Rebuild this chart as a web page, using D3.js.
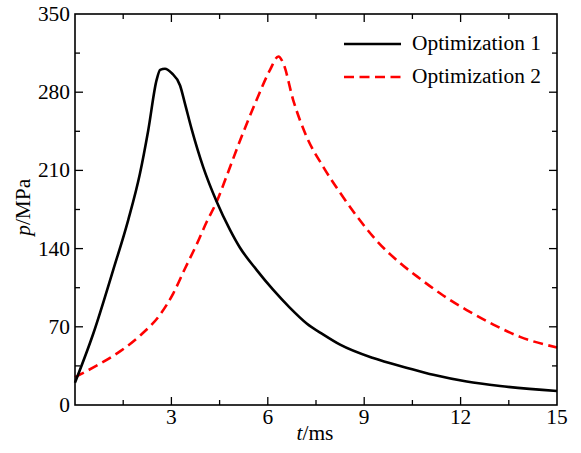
<!DOCTYPE html>
<html>
<head>
<meta charset="utf-8">
<script src="https://cdn.jsdelivr.net/npm/d3@7"></script>
<style>
  html, body { margin: 0; padding: 0; background: #fff; }
</style>
</head>
<body>
<div id="chart"></div>
<script>
// series
const t1 = [0, 0.57, 1.19, 1.66, 2.02, 2.28, 2.54, 2.65, 2.8, 3.01, 3.27, 3.42, 3.63, 3.99, 4.41, 4.82, 5.13, 5.65, 6.17, 6.69, 7.21, 7.73, 8.25, 9.28, 10.37, 11.15, 12.19, 13.23, 15]
const p1 = [20, 64, 121, 166, 207, 246, 291, 300, 301, 297, 286, 270, 247, 213, 182, 157, 141, 121, 103, 87, 73, 63, 54, 42, 33, 27, 21, 17, 12.5]

const t2 = [0, 0.78, 1.4, 2.02, 2.65, 3.06, 3.42, 3.79, 4.1, 4.41, 4.72, 5.14, 5.65, 6.07, 6.33, 6.48, 6.79, 7.21, 7.73, 8.25, 8.77, 9.39, 10.12, 10.74, 11.36, 12.19, 13.02, 13.85, 15]
const p2 = [25, 37, 48, 62, 81, 100, 122, 144, 164, 182, 205, 237, 273, 300, 312, 306, 273, 240, 213, 190, 169, 147, 127, 113, 100, 85, 72, 61, 51.5]

const seriesNames = ['Optimization 1', 'Optimization 2']
const xTicks = [3, 6, 9, 12, 15]
const xMinor = [1.5, 4.5, 7.5, 10.5, 13.5]
const yTicks = [0, 70, 140, 210, 280, 350]
const yMinor = [35, 105, 175, 245, 315]

const W = 581, H = 453
const margin = { top: 14, right: 24, bottom: 48, left: 75 }
const w = W - margin.left - margin.right
const h = H - margin.top - margin.bottom

const svg = d3.select('#chart').append('svg').attr('width', W).attr('height', H)
  .attr('font-family', '"Liberation Serif"')
const g = svg.append('g').attr('transform', `translate(${margin.left},${margin.top})`)

const x = d3.scaleLinear().domain([0, 15]).range([0, w])
const y = d3.scaleLinear().domain([0, 350]).range([h, 0])

// text in the reference is a little wider than it is tall
const label = (parent, lx, ly, anchor, extra = '') => parent.append('text')
  .attr('transform', `translate(${lx},${ly}) ${extra} scale(1.07,1)`)
  .attr('text-anchor', anchor).attr('font-size', 20).attr('fill', '#000')
  .attr('font-family', '"Liberation Serif"')

const line = d3.line().x(d => x(d[0])).y(d => y(d[1])).curve(d3.curveMonotoneX)
const s1 = t1.map((t, i) => [t, p1[i]])
const s2 = t2.map((t, i) => [t, p2[i]])

g.append('path').datum(s2)
  .attr('fill', 'none').attr('stroke', '#ff0000').attr('stroke-width', 2.6)
  .attr('stroke-dasharray', '10,5.5').attr('d', line)
g.append('path').datum(s1)
  .attr('fill', 'none').attr('stroke', '#000').attr('stroke-width', 2.6)
  .attr('d', line)

// frame and inward ticks on all four sides
const tickStroke = sel => sel.attr('stroke', '#000').attr('stroke-width', 1.3)
g.append('rect').attr('width', w).attr('height', h).attr('fill', 'none')
  .attr('stroke', '#000').attr('stroke-width', 1.6)

const xt = xTicks.slice(0, -1).map(v => [v, 8]).concat(xMinor.map(v => [v, 5]))
xt.forEach(([v, len]) => {
  g.append('line').attr('x1', x(v)).attr('x2', x(v)).attr('y1', h).attr('y2', h - len).call(tickStroke)
  g.append('line').attr('x1', x(v)).attr('x2', x(v)).attr('y1', 0).attr('y2', len).call(tickStroke)
})
const yt = yTicks.slice(1, -1).map(v => [v, 8]).concat(yMinor.map(v => [v, 5]))
yt.forEach(([v, len]) => {
  g.append('line').attr('x1', 0).attr('x2', len).attr('y1', y(v)).attr('y2', y(v)).call(tickStroke)
  g.append('line').attr('x1', w).attr('x2', w - len).attr('y1', y(v)).attr('y2', y(v)).call(tickStroke)
})

// tick labels
xTicks.forEach(v => label(g, x(v), h + 19, 'middle').text(v))
yTicks.forEach(v => label(g, -5, y(v) + 7, 'end').text(v))

// axis titles
const xTitle = label(g, w / 2 - 1, h + 35, 'middle')
xTitle.append('tspan').attr('font-style', 'italic').text('t')
xTitle.append('tspan').text('/ms')

const yTitle = label(svg, 30, margin.top + y(177), 'middle', 'rotate(-90)')
yTitle.append('tspan').attr('font-style', 'italic').text('p')
yTitle.append('tspan').text('/MPa')

// legend
const legend = svg.append('g')
seriesNames.forEach((name, i) => {
  const ly = 44 + i * 33
  legend.append('line').attr('x1', 344).attr('x2', 401).attr('y1', ly).attr('y2', ly)
    .attr('stroke', i ? '#ff0000' : '#000').attr('stroke-width', 2.6)
    .attr('stroke-dasharray', i ? '10,5.5' : null)
  label(legend, 412, ly + 6, 'start').text(name)
})
</script>
</body>
</html>
